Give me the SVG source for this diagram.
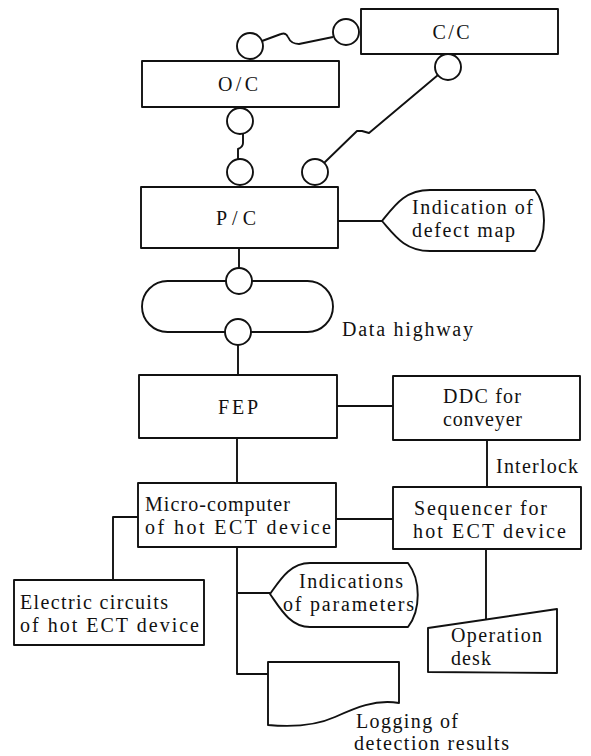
<svg xmlns="http://www.w3.org/2000/svg" width="591" height="756" viewBox="0 0 591 756">
<style>
.s{fill:#fff;stroke:#111;stroke-width:1.9;stroke-linejoin:round}
.c{fill:none;stroke:#111;stroke-width:1.9;stroke-linejoin:round}
.p{fill:#fff;stroke:#111;stroke-width:1.9}
.t{font-family:'Liberation Serif','Times New Roman',serif;font-size:20px;fill:#111}
.m{text-anchor:middle}
</style>
<rect width="591" height="756" fill="#fff"/>
<g id="connectors">
<path class="c" d="M262,41 L281,34 Q286,32 288,37 Q291,44 299,44 L333,37"/>
<path class="c" d="M243,134 V143 Q243,147 238,149 V159"/>
<path class="c" d="M324,163 L357,131 L362,131 L369,133 L438,75"/>
<line class="c" x1="239" y1="248" x2="239" y2="268"/>
<line class="c" x1="338" y1="221" x2="382" y2="221"/>
<line class="c" x1="238" y1="345" x2="238" y2="375"/>
<line class="c" x1="337" y1="406" x2="393" y2="406"/>
<line class="c" x1="237" y1="438" x2="237" y2="483"/>
<line class="c" x1="487" y1="440" x2="487" y2="487"/>
<line class="c" x1="336" y1="519" x2="393" y2="519"/>
<polyline class="c" points="138,517 113,517 113,580"/>
<polyline class="c" points="237,547 237,674 268,674"/>
<line class="c" x1="237" y1="593" x2="270" y2="593"/>
<line class="c" x1="486" y1="549" x2="486" y2="619"/>
</g>
<g id="highway">
<rect class="c" x="142" y="281" width="191" height="51" rx="25.5"/>
<text class="t" x="342" y="336" textLength="131">Data highway</text>
</g>
<g id="ports">
<circle class="p" cx="250" cy="46" r="13"/>
<circle class="p" cx="346" cy="32" r="13"/>
<circle class="p" cx="448" cy="67" r="13"/>
<circle class="p" cx="240" cy="121" r="13"/>
<circle class="p" cx="240" cy="172" r="13"/>
<circle class="p" cx="315" cy="172" r="13"/>
<circle class="p" cx="239" cy="281" r="13"/>
<circle class="p" cx="238" cy="332" r="13"/>
</g>
<g id="oc">
<rect class="s" x="142" y="61" width="197" height="46"/>
<text class="t m" x="238" y="91" textLength="40">O/C</text>
</g>
<g id="cc">
<rect class="s" x="361" y="9" width="197" height="45"/>
<text class="t m" x="451" y="39" textLength="37">C/C</text>
</g>
<g id="pc">
<rect class="s" x="141" y="187" width="197" height="61"/>
<text class="t m" x="236" y="225" textLength="40">P/C</text>
</g>
<g id="defect-map">
<path class="s" d="M382,221 C395,205 405,190 430,190 L535,190 C547,205 547,236 535,251 L430,251 C405,251 395,236 382,221 Z"/>
<text class="t" x="412" y="214" textLength="121">Indication of</text>
<text class="t" x="412" y="237" textLength="103">defect map</text>
</g>
<g id="fep">
<rect class="s" x="139" y="375" width="198" height="63"/>
<text class="t m" x="238" y="414" textLength="40">FEP</text>
</g>
<g id="ddc">
<rect class="s" x="393" y="376" width="187" height="64"/>
<text class="t" x="443" y="403" textLength="78">DDC for</text>
<text class="t" x="443" y="426" textLength="79">conveyer</text>
</g>
<text class="t" x="496" y="473" textLength="82">Interlock</text>
<g id="micro">
<rect class="s" x="138" y="483" width="198" height="64"/>
<text class="t" x="145" y="511" textLength="145">Micro-computer</text>
<text class="t" x="145" y="534" textLength="186">of hot ECT device</text>
</g>
<g id="sequencer">
<rect class="s" x="393" y="487" width="188" height="62"/>
<text class="t" x="414" y="515" textLength="133">Sequencer for</text>
<text class="t" x="413" y="538" textLength="153">hot ECT device</text>
</g>
<g id="electric">
<rect class="s" x="14" y="580" width="190" height="65"/>
<text class="t" x="20" y="609" textLength="148">Electric circuits</text>
<text class="t" x="20" y="632" textLength="179">of hot ECT device</text>
</g>
<g id="parameters">
<path class="s" d="M270,594 C280,580 290,563 310,563 L408,563 C421,580 421,610 408,627 L310,627 C290,627 280,608 270,594 Z"/>
<text class="t" x="299" y="588" textLength="104">Indications</text>
<text class="t" x="283" y="611" textLength="131">of parameters</text>
</g>
<g id="operation-desk">
<polygon class="s" points="428,628 557,609 557,673 428,672"/>
<text class="t" x="451" y="642" textLength="91">Operation</text>
<text class="t" x="451" y="665" textLength="40">desk</text>
</g>
<g id="logging">
<path class="s" d="M268,662 H399 V703 C375,699 355,708 335,717 C315,726 290,727 268,725 Z"/>
<text class="t" x="356" y="728" textLength="102">Logging of</text>
<text class="t" x="354" y="750" textLength="155">detection results</text>
</g>
</svg>
